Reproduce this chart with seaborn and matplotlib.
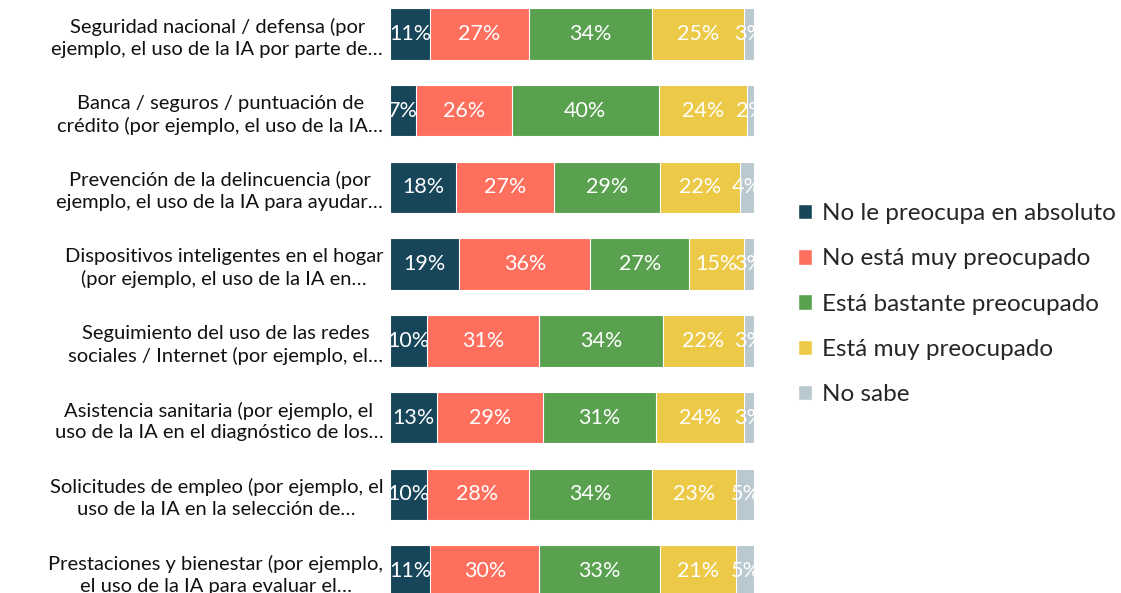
import numpy as np
import pandas as pd
import matplotlib
matplotlib.use("Agg")
import matplotlib.pyplot as plt
import seaborn as sns
from matplotlib.patches import Patch

categories = [
    "Seguridad nacional / defensa (por\nejemplo, el uso de la IA por parte de…",
    "Banca / seguros / puntuación de\ncrédito (por ejemplo, el uso de la IA…",
    "Prevención de la delincuencia (por\nejemplo, el uso de la IA para ayudar…",
    "Dispositivos inteligentes en el hogar\n(por ejemplo, el uso de la IA en…",
    "Seguimiento del uso de las redes\nsociales / Internet (por ejemplo, el…",
    "Asistencia sanitaria (por ejemplo, el\nuso de la IA en el diagnóstico de los…",
    "Solicitudes de empleo (por ejemplo, el\nuso de la IA en la selección de…",
    "Prestaciones y bienestar (por ejemplo,\nel uso de la IA para evaluar el…",
]
series = [
    "No le preocupa en absoluto",
    "No está muy preocupado",
    "Está bastante preocupado",
    "Está muy preocupado",
    "No sabe",
]
nada = [11, 7, 18, 19, 10, 13, 10, 11]
poco = [27, 26, 27, 36, 31, 29, 28, 30]
bastante = [34, 40, 29, 27, 34, 31, 34, 33]
mucho = [25, 24, 22, 15, 22, 24, 23, 21]
nosabe = [3, 2, 4, 3, 3, 3, 5, 5]
colors = ["#17455A", "#FF6F5E", "#59A14F", "#EDC948", "#BAC8CF"]

sns.set_theme(style="white")
plt.rcParams["font.family"] = ["Lato", "DejaVu Sans"]

df = pd.DataFrame(
    np.array([nada, poco, bastante, mucho, nosabe]).T,
    columns=series, index=categories,
)
# scale each row to fill the bar (rounded values sum to 99-100)
scaled = df.div(df.sum(axis=1), axis=0) * 100
cum = scaled.cumsum(axis=1)

fig = plt.figure(figsize=(11.21, 5.93), dpi=100)
ax = fig.add_axes([0.348, 0.0, 0.325, 1.0])

# stacked bars: draw cumulative totals from widest to narrowest
for i in reversed(range(len(series))):
    tmp = pd.DataFrame({"cat": categories, "val": cum.iloc[:, i].values})
    sns.barplot(data=tmp, y="cat", x="val", color=colors[i], orient="h",
                width=0.67, saturation=1, edgecolor="white", linewidth=0.8, ax=ax)

for r in range(len(categories)):
    left = 0
    for c in range(len(series)):
        w = scaled.iloc[r, c]
        ax.text(left + w / 2, r, f"{df.iloc[r, c]}%", ha="center", va="center",
                color="white", fontsize=15.5)
        left += w

ax.set_xlim(0, 100)
ax.set_ylim(7.287, -0.443)
ax.set_xlabel("")
ax.set_ylabel("")
ax.set_xticks([])
ax.tick_params(axis="y", length=0, pad=5)
ax.set_yticks(range(len(categories)))
ax.set_yticklabels(categories, fontsize=14.5, multialignment="center",
                   color="#111111", linespacing=1.35)
sns.despine(ax=ax, left=True, bottom=True)

handles = [Patch(facecolor=colors[i], label=series[i]) for i in range(len(series))]
fig.legend(handles=handles, loc="center left", bbox_to_anchor=(0.692, 0.487),
           frameon=False, fontsize=17.5, handlelength=0.6, handleheight=0.6,
           handletextpad=0.4, labelspacing=1.0)

fig.savefig("out.png", dpi=100)
